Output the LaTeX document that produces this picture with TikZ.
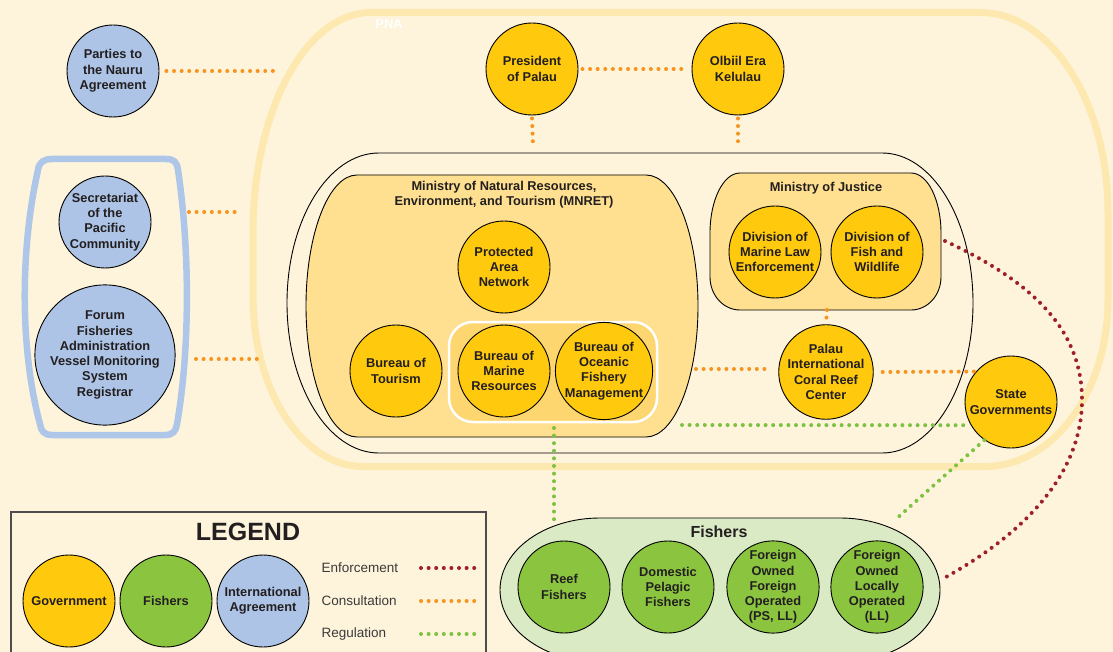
\documentclass[tikz,border=0pt]{standalone}
\usepackage{fontspec}
\setmainfont{Liberation Sans}
\definecolor{bgc}{HTML}{FEF4DC}
\definecolor{pnac}{HTML}{FDE8B0}
\definecolor{minc}{HTML}{FEE090}
\definecolor{innerc}{HTML}{FDD670}
\definecolor{govc}{HTML}{FFC90D}
\definecolor{fishc}{HTML}{8BC540}
\definecolor{fellc}{HTML}{D9EAC4}
\definecolor{intc}{HTML}{ADC4E6}
\definecolor{bluec}{HTML}{AEC6E8}
\definecolor{orangec}{HTML}{F7941D}
\definecolor{greenc}{HTML}{7DC242}
\definecolor{redc}{HTML}{9E1F28}
\definecolor{textc}{HTML}{231F20}
\definecolor{legc}{HTML}{4D4D4D}
\definecolor{legtext}{HTML}{3A3A3A}
\tikzset{
  circ/.style={circle, draw=black, line width=0.9pt, minimum size=92pt, inner sep=0pt,
    align=center, text=textc, font=\fontsize{12.8}{15.3}\selectfont\bfseries},
  gov/.style={circ, fill=govc},
  fish/.style={circ, fill=fishc},
  intl/.style={circ, fill=intc},
  dots/.style={line width=4pt, line cap=round, dash pattern=on 0pt off 7.6pt},
  cons/.style={dots, draw=orangec},
  regl/.style={dots, draw=greenc},
  enf/.style={dots, draw=redc},
  title/.style={align=center, text=textc, font=\fontsize{12.8}{15.3}\selectfont\bfseries},
  leglbl/.style={anchor=west, text=legtext, font=\fontsize{13.5}{16}\selectfont},
  frame/.style={draw=black, line width=0.9pt}
}
\begin{document}
\begin{tikzpicture}[x=1pt,y=-1pt]
\path[use as bounding box, fill=bgc] (0,0) rectangle (1113,652);
\clip (0,0) rectangle (1113,652);
% PNA band
\draw[pnac, line width=7pt]
  (371,12.5) -- (980,12.5)
  .. controls (1050.7,12.5) and (1108,102) .. (1108,212.5) -- (1108,300)
  .. controls (1108,392) and (1052.9,466.5) .. (985,466.5) -- (363,466.5)
  .. controls (302.3,466.5) and (253,390.4) .. (253,296.5) -- (253,232)
  .. controls (253,110.6) and (305.9,12.5) .. (371,12.5) -- cycle;
\node[text=white, font=\fontsize{12.8}{15}\selectfont\bfseries] (pna) at (389,24) {PNA};
% blue bracket
\draw[bluec, line width=6.5pt]
  (52,159) -- (166,159) .. controls (174,159) and (177,162) .. (178,170)
  .. controls (190,250) and (190,350) .. (177,424)
  .. controls (176,431) and (173,435) .. (165,435) -- (52,435)
  .. controls (44,435) and (41,431) .. (40,424)
  .. controls (20,350) and (20,250) .. (38,170)
  .. controls (39,162) and (44,159) .. (52,159) -- cycle;
% outer container
\draw[frame, fill=bgc]
  (379,153) -- (882,153) .. controls (932.3,153) and (973,220.2) .. (973,303)
  .. controls (973,385.8) and (932.3,453) .. (882,453) -- (379,453)
  .. controls (328.2,453) and (287,385.8) .. (287,303)
  .. controls (287,220.2) and (328.2,153) .. (379,153) -- cycle;
% MNRET
\draw[frame, fill=minc]
  (357,175) -- (646,175) .. controls (674.7,175) and (698,233.65) .. (698,306)
  .. controls (698,378.35) and (674.7,437) .. (646,437) -- (357,437)
  .. controls (328.8,437) and (306,378.35) .. (306,306)
  .. controls (306,233.65) and (328.8,175) .. (357,175) -- cycle;
\node[title] (mnrett) at (504,195) {Ministry of Natural Resources,\\Environment, and Tourism (MNRET)};
\draw[white, line width=2.5pt, fill=innerc, rounded corners=24pt] (449,322) rectangle (657,422);
% Ministry of Justice
\draw[frame, fill=minc]
  (740,173) -- (911,173) .. controls (927.6,173) and (941,199.9) .. (941,233) -- (941,277)
  .. controls (941,295.2) and (927.6,310) .. (911,310) -- (740,310)
  .. controls (723.4,310) and (710,295.2) .. (710,277) -- (710,233)
  .. controls (710,199.9) and (723.4,173) .. (740,173) -- cycle;
\node[title] (mojt) at (826,188) {Ministry of Justice};
% Fishers container
\draw[frame, fill=fellc]
  (600,518) -- (840,518) .. controls (895.2,518) and (940,550.2) .. (940,590)
  .. controls (940,629.8) and (895.2,662) .. (840,662) -- (600,662)
  .. controls (544.8,662) and (500,629.8) .. (500,590)
  .. controls (500,550.2) and (544.8,518) .. (600,518) -- cycle;
\node[text=textc, font=\fontsize{16}{18}\selectfont\bfseries] (fisht) at (719,532) {Fishers};
% legend box
\draw[draw=legc, line width=1.3pt, fill=bgc] (11,512) rectangle (486,700);
\node[text=textc, font=\fontsize{25}{28}\selectfont\bfseries] (legt) at (248,532) {LEGEND};
% named free ends
\coordinate (pnaA) at (273,71);
\coordinate (brS) at (189,212); \coordinate (pnaB) at (242,212);
\coordinate (brF) at (196,359); \coordinate (pnaC) at (257,359);
\coordinate (contP) at (533,145); \coordinate (contO) at (738,145);
\coordinate (mojS) at (827,310);
\coordinate (mnretE) at (696,369);
\coordinate (mnretG) at (682,425);
\coordinate (innerS) at (554,428);
\coordinate (fishT) at (554,520);
\coordinate (fishTR) at (895,520);
\coordinate (mojE) at (945,241);
\coordinate (fishE) at (946,577);
\coordinate (l1a) at (421,568); \coordinate (l1b) at (475,568);
\coordinate (l2a) at (421,601); \coordinate (l2b) at (475,601);
\coordinate (l3a) at (421,634); \coordinate (l3b) at (475,634);
% circles
\node[intl] (parties) at (113,71) {Parties to\\the Nauru\\Agreement};
\node[intl] (secr) at (105,222) {Secretariat\\of the\\Pacific\\Community};
\node[intl, minimum size=122pt] (forum) at (105,355) {Forum\\Fisheries\\Administration\\Vessel Monitoring\\System\\Registrar};
\node[gov] (pres) at (532,69) {President\\of Palau};
\node[gov] (olb) at (738,69) {Olbiil Era\\Kelulau};
\node[gov] (pan) at (504,267) {Protected\\Area\\Network};
\node[gov] (btour) at (396,371) {Bureau of\\Tourism};
\node[gov] (bmr) at (504,371) {Bureau of\\Marine\\Resources};
\node[gov] (bofm) at (604,371) {Bureau of\\Oceanic\\Fishery\\Management};
\node[gov] (dmle) at (775,252) {Division of\\Marine Law\\Enforcement};
\node[gov] (dfw) at (877,252) {Division of\\Fish and\\Wildlife};
\node[gov] (picrc) at (826,372) {Palau\\International\\Coral Reef\\Center};
\node[gov] (state) at (1011,402) {State\\Governments};
\node[fish] (reef) at (564,587) {Reef\\Fishers};
\node[fish] (dom) at (668,587) {Domestic\\Pelagic\\Fishers};
\node[fish] (fofo) at (773,587) {Foreign\\Owned\\Foreign\\Operated\\(PS, LL)};
\node[fish] (fol) at (877,587) {Foreign\\Owned\\Locally\\Operated\\(LL)};
\node[gov] (lgov) at (69,601) {Government};
\node[fish] (lfish) at (166,601) {Fishers};
\node[intl] (lint) at (263,601) {International\\Agreement};
\node[leglbl] (lenf) at (318,568) {Enforcement};
\node[leglbl] (lcon) at (318,601) {Consultation};
\node[leglbl] (lreg) at (318,634) {Regulation};
% connectors
\draw[cons] ([xshift=7pt]parties.east) -- (pnaA);
\draw[cons] (brS) -- (pnaB);
\draw[cons] (brF) -- (pnaC);
\draw[cons] ([xshift=4pt]pres.east) -- ([xshift=-3pt]olb.west);
\draw[cons] ([yshift=-3pt]pres.south) -- (contP);
\draw[cons] ([yshift=-3pt]olb.south) -- (contO);
\draw[cons] (mojS) -- (picrc.north);
\draw[cons, shorten >=9pt] (mnretE) -- (mnretE -| picrc.west);
\draw[cons] ([xshift=9pt]picrc.east) -- (state.139);
\draw[regl] (mnretG) -- (state.210);
\draw[regl] (state.235) -- (fishTR);
\draw[regl] (innerS) -- (fishT);
\draw[enf] (mojE) .. controls (1040,285) and (1082,335) .. (1082,400)
  .. controls (1082,470) and (1030,530) .. (fishE);
\draw[enf] (l1a) -- (l1b);
\draw[cons] (l2a) -- (l2b);
\draw[regl] (l3a) -- (l3b);
\end{tikzpicture}
\end{document}
